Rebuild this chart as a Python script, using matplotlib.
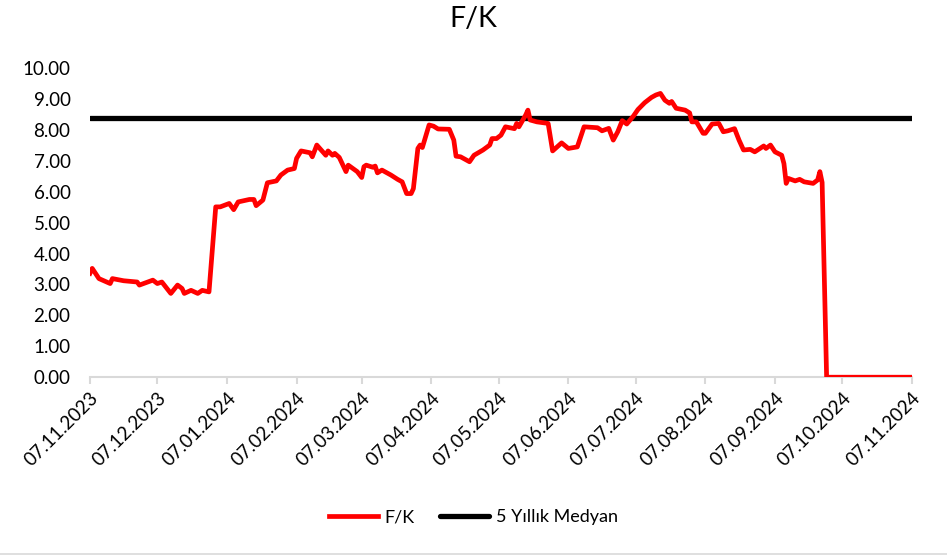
import matplotlib
matplotlib.use("Agg")
import matplotlib.pyplot as plt
import pandas as pd

# ─── data ─────────────────────────────────────────────────────────────────────

START = pd.Timestamp("2023-11-07")
END = pd.Timestamp("2024-11-07")

# days after 07.11.2023
days = [0, 1, 4, 9, 10, 15, 21, 22, 28, 30, 32, 36, 39, 41, 42, 45, 48, 50, 53,
        56, 58, 62, 64, 66, 71, 73, 74, 77, 79, 83, 85, 88, 91, 92, 94, 98, 99,
        101, 105, 106, 108, 109, 111, 114, 115, 119, 121, 122, 123, 126, 127,
        128, 130, 134, 137, 139, 141, 143, 144, 146, 147, 148, 151, 153, 155,
        160, 162, 163, 165, 169, 171, 175, 178, 179, 181, 183, 185, 189, 190,
        191, 194, 195, 196, 199, 204, 206, 210, 213, 217, 220, 226, 228, 231,
        233, 235, 237, 239, 242, 244, 247, 250, 252, 254, 256, 258, 259, 261,
        265, 267, 268, 270, 273, 274, 277, 280, 282, 284, 287, 289, 291, 294,
        296, 300, 301, 303, 305, 308, 309, 310, 311, 314, 316, 318, 322, 324,
        325, 326, 328, 366]

fk = [3.36, 3.52, 3.19, 3.03, 3.19, 3.12, 3.08, 2.98, 3.14, 3.03, 3.08, 2.71,
      2.98, 2.87, 2.71, 2.81, 2.71, 2.81, 2.76,
      5.51, 5.51, 5.62, 5.42, 5.67, 5.75, 5.75, 5.55, 5.73, 6.29, 6.35, 6.54,
      6.70, 6.75, 7.08, 7.32, 7.26, 7.13, 7.51, 7.18, 7.32, 7.18, 7.24, 7.11,
      6.65, 6.86, 6.65, 6.46, 6.81, 6.86, 6.79, 6.83, 6.61, 6.70, 6.54, 6.40,
      6.32, 5.94, 5.94, 6.10, 7.40, 7.51, 7.43, 8.16, 8.12, 8.03, 8.02, 7.67,
      7.15, 7.13, 6.97, 7.18, 7.35, 7.51, 7.72, 7.72, 7.83, 8.10, 8.04, 8.21,
      8.10, 8.48, 8.64, 8.32, 8.26, 8.21, 7.32, 7.58, 7.40, 7.45, 8.10, 8.07,
      7.97, 8.05, 7.67, 7.94, 8.30, 8.19, 8.45, 8.66, 8.88, 9.05, 9.13, 9.18,
      8.96, 8.86, 8.92, 8.70, 8.64, 8.55, 8.26, 8.26, 7.89, 7.89, 8.19, 8.21,
      7.94, 7.97, 8.04, 7.67, 7.35, 7.37, 7.29, 7.48, 7.40, 7.51, 7.29, 7.18,
      6.91, 6.27, 6.43, 6.35, 6.40, 6.32, 6.27, 6.38, 6.65, 6.30, 0.0, 0.0]

median_5y = 8.39

tick_labels = ["07.11.2023", "07.12.2023", "07.01.2024", "07.02.2024",
               "07.03.2024", "07.04.2024", "07.05.2024", "07.06.2024",
               "07.07.2024", "07.08.2024", "07.09.2024", "07.10.2024",
               "07.11.2024"]

# ─── plot ─────────────────────────────────────────────────────────────────────

plt.rcParams["font.family"] = ["Lato", "DejaVu Sans"]

dates = [START + pd.Timedelta(days=d) for d in days]
ticks = pd.to_datetime(tick_labels, format="%d.%m.%Y")

fig = plt.figure(figsize=(9.47, 5.58), dpi=100)
ax = fig.add_axes([0.095, 0.324, 0.868, 0.554])

ax.plot(dates, fk, color="#ff0000", lw=3.4, label="F/K", zorder=3,
        solid_joinstyle="round")
ax.plot([START, END], [median_5y, median_5y], color="black", lw=3.8,
        label="5 Yıllık Medyan", zorder=2, solid_capstyle="round")

ax.set_xlim(START, END)
ax.set_ylim(0, 10)
ax.set_yticks([i for i in range(11)])
ax.set_yticklabels([f"{i:.2f}" for i in range(11)], fontsize=13.5)

ax.set_xticks(ticks)
ax.set_xticklabels(tick_labels, rotation=45, ha="right",
                   rotation_mode="anchor", fontsize=13.5)

for s in ("top", "right", "left"):
    ax.spines[s].set_visible(False)
ax.spines["bottom"].set_color("#d9d9d9")
ax.spines["bottom"].set_linewidth(1.5)
ax.tick_params(axis="y", length=0, pad=14, colors="black")
ax.tick_params(axis="x", length=5, width=1.5, color="#d9d9d9", pad=4)

fig.suptitle("F/K", fontsize=20.5, y=0.99)

fig.legend(loc="lower center", bbox_to_anchor=(0.5, 0.03), ncol=2,
           frameon=False, fontsize=13, handlelength=2.7, columnspacing=1.4,
           handletextpad=0.4)

# thin border line at the bottom of the chart area
fig.add_artist(plt.Line2D([0, 1], [0.008, 0.008], color="#d9d9d9", lw=1.2))

fig.savefig("out.png", dpi=100)
